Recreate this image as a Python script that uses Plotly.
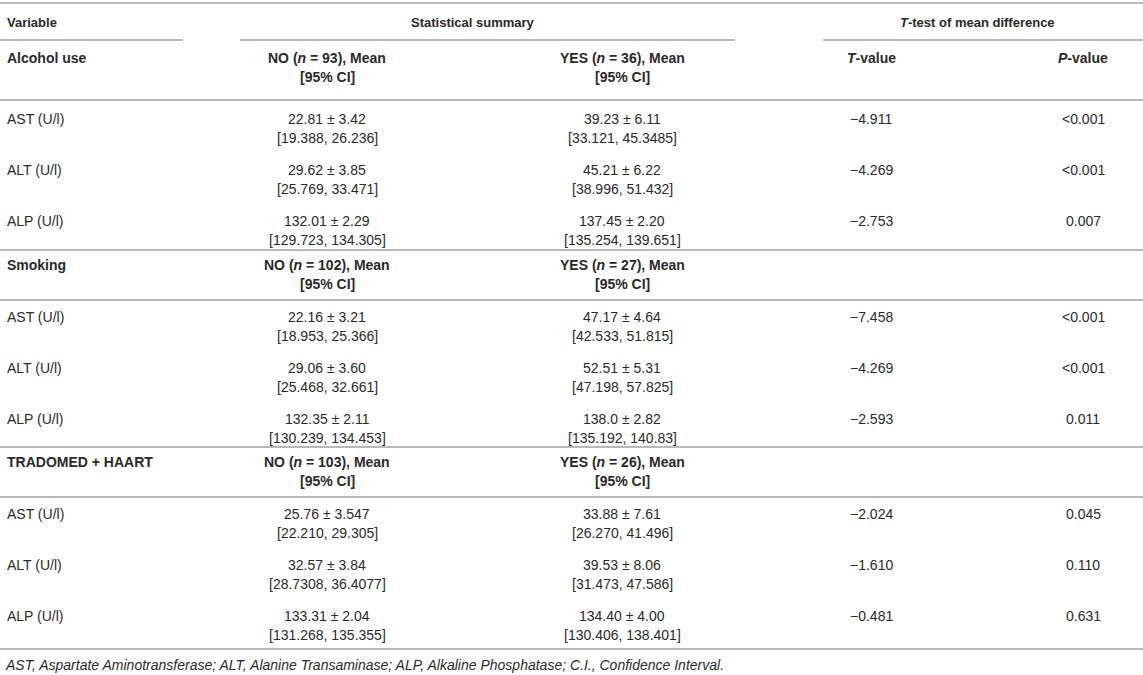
import plotly.graph_objects as go

# table content
groups = ["Alcohol use", "Smoking", "TRADOMED + HAART"]
n_no = [93, 102, 103]
n_yes = [36, 27, 26]
variables = ["AST (U/l)", "ALT (U/l)", "ALP (U/l)"]

no_mean = [["22.81 ± 3.42", "29.62 ± 3.85", "132.01 ± 2.29"],
           ["22.16 ± 3.21", "29.06 ± 3.60", "132.35 ± 2.11"],
           ["25.76 ± 3.547", "32.57 ± 3.84", "133.31 ± 2.04"]]
no_ci = [["[19.388, 26.236]", "[25.769, 33.471]", "[129.723, 134.305]"],
         ["[18.953, 25.366]", "[25.468, 32.661]", "[130.239, 134.453]"],
         ["[22.210, 29.305]", "[28.7308, 36.4077]", "[131.268, 135.355]"]]
yes_mean = [["39.23 ± 6.11", "45.21 ± 6.22", "137.45 ± 2.20"],
            ["47.17 ± 4.64", "52.51 ± 5.31", "138.0 ± 2.82"],
            ["33.88 ± 7.61", "39.53 ± 8.06", "134.40 ± 4.00"]]
yes_ci = [["[33.121, 45.3485]", "[38.996, 51.432]", "[135.254, 139.651]"],
          ["[42.533, 51.815]", "[47.198, 57.825]", "[135.192, 140.83]"],
          ["[26.270, 41.496]", "[31.473, 47.586]", "[130.406, 138.401]"]]
t_values = [["−4.911", "−4.269", "−2.753"],
            ["−7.458", "−4.269", "−2.593"],
            ["−2.024", "−1.610", "−0.481"]]
p_values = [["<0.001", "<0.001", "0.007"],
            ["<0.001", "<0.001", "0.011"],
            ["0.045", "0.110", "0.631"]]

footnote = ("AST, Aspartate Aminotransferase; ALT, Alanine Transaminase; "
            "ALP, Alkaline Phosphatase; C.I., Confidence Interval.")

W, H = 1143, 675
TXT = "#2a2a2a"
RULE = "#a0a0a0"
FONT = "Liberation Sans"

# column anchors (px)
x_var, x_no, x_yes, x_t, x_p = 5, 327, 622, 871, 1083

fig = go.Figure()
anns = []
shapes = []


def txt(x, y, s, anchor="center", bold=False, italic=False, size=14):
    if bold:
        s = "<b>" + s + "</b>"
    if italic:
        s = "<i>" + s + "</i>"
    anns.append(dict(x=x, y=y, text=s, xref="x", yref="y", showarrow=False,
                     xanchor=anchor, yanchor="middle",
                     font=dict(family=FONT, size=size, color=TXT)))


def rule(y, x0=0, x1=W, w=1.6):
    shapes.append(dict(type="line", xref="x", yref="y", x0=x0, x1=x1, y0=y, y1=y,
                       line=dict(color=RULE, width=w)))


# top header
rule(3)
txt(x_var, 22, "Variable", "left", bold=True, size=13)
txt(473, 22, "Statistical summary", bold=True, size=13)
txt(977, 22, "<i>T</i>-test of mean difference", bold=True, size=13)
rule(40, 0, 183)
rule(40, 240, 735)
rule(40, 823, W)
txt(x_t, 58, "<i>T</i>-value", bold=True)
txt(x_p, 58, "<i>P</i>-value", bold=True)

line_gap = 19
row_gap = 51
head_y = [58, 265, 462]      # group header rows
body_y = [119, 317, 514]     # first data row of each group
for g in range(len(groups)):
    y = head_y[g]
    if g > 0:
        rule(y - 15)
    txt(x_var, y, groups[g], "left", bold=True)
    txt(x_no, y, "NO (<i>n</i> = %d), Mean" % n_no[g], bold=True)
    txt(x_no, y + line_gap, "[95% CI]", bold=True)
    txt(x_yes, y, "YES (<i>n</i> = %d), Mean" % n_yes[g], bold=True)
    txt(x_yes, y + line_gap, "[95% CI]", bold=True)
    rule(body_y[g] - 19 if g == 0 else y + 35)
    y = body_y[g]
    for r in range(len(variables)):
        txt(x_var, y, variables[r], "left")
        txt(x_no, y, no_mean[g][r])
        txt(x_no, y + line_gap, no_ci[g][r])
        txt(x_yes, y, yes_mean[g][r])
        txt(x_yes, y + line_gap, yes_ci[g][r])
        txt(x_t, y, t_values[g][r])
        txt(x_p, y, p_values[g][r])
        y = y + row_gap

rule(649)
txt(x_var - 2, 665, footnote, "left", italic=True, size=14)

fig.update_layout(
    width=W, height=H,
    margin=dict(l=0, r=0, t=0, b=0),
    paper_bgcolor="white", plot_bgcolor="white",
    xaxis=dict(range=[0, W], visible=False, fixedrange=True),
    yaxis=dict(range=[H, 0], visible=False, fixedrange=True),
    annotations=anns, shapes=shapes, showlegend=False,
)

# page body has an 8px default margin; drop it so the table sits at the corner
fig.write_html("out.html", config={"displayModeBar": False},
               post_script="document.body.style.margin='0';")
